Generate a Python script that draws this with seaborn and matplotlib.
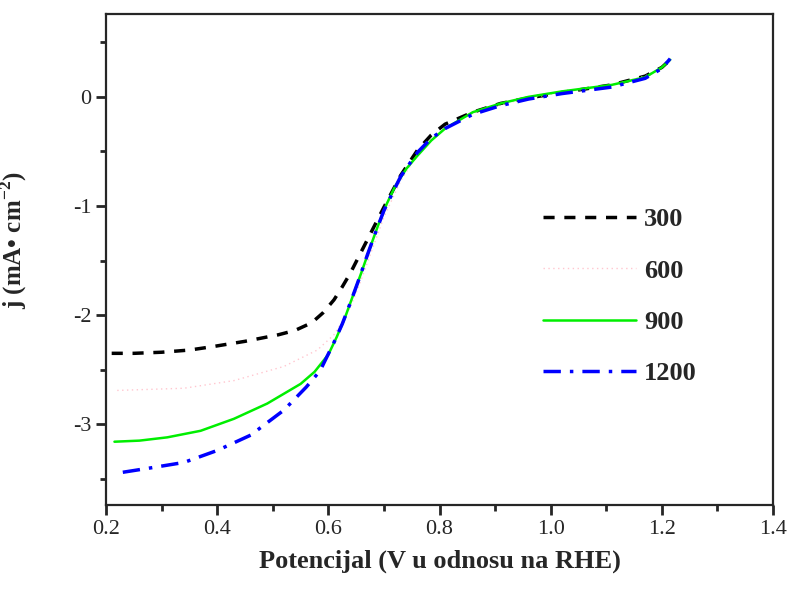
import numpy as np
import pandas as pd
import seaborn as sns
import matplotlib.pyplot as plt
from matplotlib.ticker import MultipleLocator

# rotation speeds (legend labels)
labels = ['300', '600', '900', '1200']

# potential (V vs RHE) and current density (mA/cm2)
v_300 = [0.21, 0.25, 0.30, 0.35, 0.39, 0.45, 0.51, 0.54, 0.57, 0.59, 0.61, 0.625, 0.64, 0.655,
         0.67, 0.685, 0.70, 0.73, 0.76, 0.785, 0.81, 0.86, 0.91, 0.96, 1.02, 1.11, 1.17, 1.20, 1.215]
j_300 = [-2.35, -2.35, -2.34, -2.32, -2.29, -2.24, -2.18, -2.14, -2.07, -1.98, -1.86, -1.74, -1.61, -1.46,
         -1.31, -1.16, -1.01, -0.72, -0.49, -0.35, -0.25, -0.14, -0.06, -0.01, 0.04, 0.11, 0.19, 0.27, 0.34]

v_600 = [0.22, 0.28, 0.34, 0.43, 0.52, 0.58, 0.61, 0.625, 0.64, 0.655, 0.67, 0.70, 0.73,
         0.76, 0.785, 0.81, 0.86, 0.91, 0.96, 1.02, 1.11, 1.17, 1.20, 1.215]
j_600 = [-2.69, -2.68, -2.67, -2.60, -2.47, -2.32, -2.18, -2.06, -1.92, -1.73, -1.52, -1.10, -0.77,
         -0.53, -0.39, -0.28, -0.15, -0.07, -0.01, 0.04, 0.11, 0.19, 0.27, 0.34]

v_900 = [0.215, 0.26, 0.31, 0.37, 0.43, 0.49, 0.55, 0.575, 0.60, 0.615, 0.63, 0.645, 0.66, 0.675, 0.69,
         0.705, 0.72, 0.74, 0.76, 0.785, 0.81, 0.86, 0.91, 0.96, 1.02, 1.11, 1.17, 1.20, 1.215]
j_900 = [-3.16, -3.15, -3.12, -3.06, -2.95, -2.81, -2.63, -2.52, -2.36, -2.20, -2.02, -1.81, -1.60, -1.38, -1.17,
         -0.98, -0.82, -0.66, -0.54, -0.40, -0.29, -0.14, -0.06, 0.00, 0.05, 0.11, 0.18, 0.27, 0.34]

v_1200 = [0.23, 0.28, 0.34, 0.40, 0.46, 0.52, 0.56, 0.585, 0.61, 0.625, 0.64, 0.655, 0.67, 0.685, 0.70,
          0.73, 0.76, 0.785, 0.81, 0.86, 0.91, 0.96, 1.02, 1.11, 1.17, 1.20, 1.215]
j_1200 = [-3.44, -3.40, -3.35, -3.24, -3.10, -2.87, -2.66, -2.51, -2.25, -2.08, -1.88, -1.67, -1.45, -1.24, -1.04,
          -0.73, -0.51, -0.38, -0.29, -0.16, -0.08, -0.02, 0.03, 0.09, 0.17, 0.26, 0.35]

frames = []
for lab, v, j in zip(labels, [v_300, v_600, v_900, v_1200], [j_300, j_600, j_900, j_1200]):
    frames.append(pd.DataFrame({'V': v, 'j': j, 'rpm': lab}))
df = pd.concat(frames, ignore_index=True)

sns.set_style('ticks')
plt.rcParams['font.family'] = ['Liberation Serif', 'DejaVu Serif']
plt.rcParams['mathtext.fontset'] = 'custom'
plt.rcParams['mathtext.bf'] = 'Liberation Serif:bold'
plt.rcParams['mathtext.rm'] = 'Liberation Serif'

fig = plt.figure(figsize=(7.92, 5.91), dpi=100)
ax = fig.add_axes([0.134, 0.1455, 0.842, 0.83])

colors = {'300': 'black', '600': '#ffc6cf', '900': '#00ee00', '1200': '#0000ff'}
dashes = {'300': (3.2, 2.8), '600': (1, 2.5), '900': '', '1200': (5, 2.6, 1, 2.6)}
widths = {'300': 2.5, '600': 1.0, '900': 1.8, '1200': 2.5}

for lab in labels:
    sub = df[df['rpm'] == lab]
    sns.lineplot(data=sub, x='V', y='j', ax=ax, color=colors[lab], lw=widths[lab],
                 label=lab, sort=False)
    line = ax.lines[-1]
    if dashes[lab]:
        line.set_dashes(dashes[lab])

ax.set_xlim(0.2, 1.4)
ax.set_ylim(-3.74, 0.755)
ax.xaxis.set_major_locator(MultipleLocator(0.2))
ax.xaxis.set_minor_locator(MultipleLocator(0.1))
ax.yaxis.set_major_locator(MultipleLocator(1))
ax.yaxis.set_minor_locator(MultipleLocator(0.5))
ax.set_xticklabels([f'{t:.1f}' for t in ax.get_xticks()])
ax.set_yticks([-3, -2, -1, 0])
ax.set_yticklabels(['-3', '-2', '-1', '0'])

ax.tick_params(which='major', direction='out', length=7, width=2, labelsize=16)
ax.tick_params(which='minor', direction='out', length=4, width=2)
for s in ax.spines.values():
    s.set_linewidth(1.6)

ax.set_xlabel('Potencijal (V u odnosu na RHE)', fontsize=19, fontweight='bold', labelpad=8)
ax.set_ylabel(r'j (mA• cm$^{\mathbf{-2}}$)', fontsize=18, fontweight='bold')
ax.yaxis.set_label_coords(-0.115, 0.54)

leg = ax.legend(loc='upper left', frameon=False,
                handlelength=3.55, labelspacing=1.05, handletextpad=0.3,
                prop={'family': 'Liberation Serif', 'weight': 'bold', 'size': 19})
leg.set_bbox_to_anchor((0.619, 0.654), transform=ax.transAxes)

plt.savefig('out.png', dpi=100)
